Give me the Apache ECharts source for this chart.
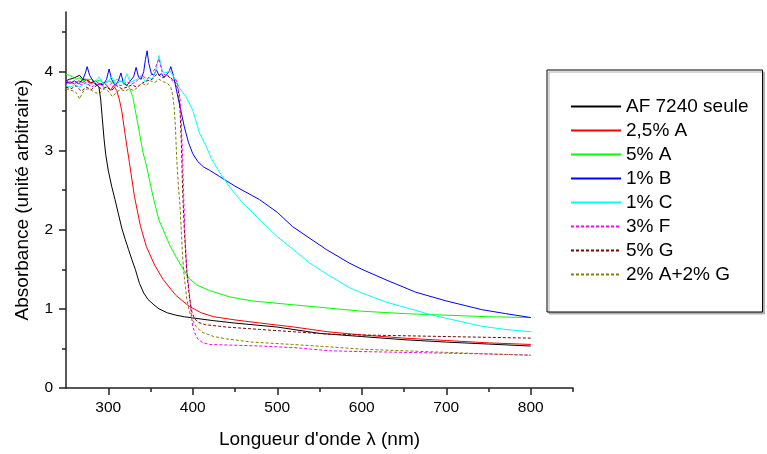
<!DOCTYPE html>
<html><head><meta charset="utf-8">
<script src="https://cdn.jsdelivr.net/npm/echarts@6/dist/echarts.min.js"></script>
<style>html,body{margin:0;padding:0;background:#fff}#c{width:767px;height:454px}</style>
</head><body><div id="c"></div>
<script>
const seriesNames = ['AF 7240 seule','2,5% A','5% A','1% B','1% C','3% F','5% G','2% A+2% G'];
const xMajorTicks = [300,400,500,600,700,800];
const xMinorTicks = [350,450,550,650,750,850];
const yMajorTicks = [0,1,2,3,4];
const yMinorTicks = [0.5,1.5,2.5,3.5,4.5];

const wlBlack = [250,254,258,262,266,270,274,278,282,286,289,291,293,295,297,300,304,308,312,316,320,324,328,332,337,342,347,353,360,370,380,390,400,425,450,500,550,600,650,700,750,800];
const absBlack = [3.88,3.9,3.91,3.93,3.95,3.9,3.9,3.85,3.87,3.84,3.8,3.65,3.4,3.15,2.95,2.75,2.55,2.38,2.2,2.02,1.88,1.75,1.62,1.5,1.32,1.2,1.12,1.06,1.0,0.95,0.92,0.9,0.885,0.85,0.82,0.77,0.69,0.65,0.61,0.58,0.555,0.53];

const wlRed = [250,255,260,265,270,275,280,285,290,295,300,303,306,310,313,316,320,325,331,338,345,355,365,380,396,410,425,450,480,520,560,600,650,700,750,800];
const absRed = [3.85,3.87,3.84,3.88,3.86,3.9,3.85,3.88,3.84,3.86,3.8,3.76,3.82,3.76,3.65,3.5,3.2,2.85,2.42,2.05,1.79,1.55,1.37,1.17,1.03,0.95,0.9,0.86,0.82,0.77,0.71,0.67,0.63,0.6,0.57,0.55];

const wlGreen = [250,254,258,262,266,270,275,280,285,290,295,300,305,310,315,320,325,329,333,337,341,345,349,353,360,365,373,381,390,396,405,420,444,470,500,550,600,650,700,750,800];
const absGreen = [3.96,3.95,3.93,3.9,3.92,3.88,3.9,3.9,3.87,3.89,3.85,3.88,3.86,3.9,3.87,3.85,3.79,3.68,3.45,3.22,2.98,2.82,2.62,2.42,2.12,2.0,1.8,1.64,1.48,1.38,1.3,1.23,1.15,1.1,1.07,1.02,0.97,0.94,0.92,0.9,0.89];

const wlBlue = [250,255,260,265,270,273,275,278,282,286,290,294,298,301,304,308,312,315,318,322,326,330,333,336,339,342,344,346,348,351,354,357,360,363,366,369,372,374,377,380,385,390,395,400,406,413,420,432,450,479,500,518,540,558,585,600,630,664,700,742,770,800];
const absBlue = [3.86,3.85,3.88,3.84,3.9,3.98,4.06,3.95,3.88,3.82,3.84,3.83,3.9,4.03,3.9,3.82,3.88,3.98,3.85,3.82,3.88,3.93,4.05,3.92,3.9,4.0,4.15,4.26,4.1,3.97,3.95,4.02,3.95,3.97,3.92,3.96,4.0,4.06,3.95,3.8,3.55,3.3,3.1,2.96,2.86,2.79,2.75,2.67,2.55,2.38,2.22,2.04,1.88,1.75,1.58,1.5,1.36,1.21,1.1,0.99,0.94,0.89];

const wlCyan = [250,255,260,266,272,278,284,289,294,299,304,309,314,318,322,326,330,334,339,344,348,352,356,360,364,368,373,379,385,392,400,408,416,422,432,445,459,480,499,520,538,560,585,600,630,664,680,700,742,770,800];
const absCyan = [3.82,3.8,3.83,3.8,3.85,3.82,3.86,3.93,3.84,3.86,3.93,3.83,3.88,3.85,3.97,3.86,3.88,3.9,3.95,3.87,3.92,3.9,4.0,4.2,4.0,3.98,4.01,3.9,3.78,3.68,3.51,3.22,3.05,2.9,2.72,2.52,2.34,2.12,1.92,1.74,1.58,1.43,1.27,1.2,1.08,0.98,0.93,0.88,0.78,0.74,0.71];

const wlMagenta = [250,256,262,268,274,280,286,292,298,304,310,316,322,328,334,340,346,352,356,360,364,368,372,376,380,383,385,386.5,388,389.5,391,393,396,398,400,403,406,412,420,450,480,520,562,600,650,700,750,800];
const absMagenta = [3.88,3.85,3.87,3.83,3.86,3.8,3.84,3.82,3.8,3.85,3.83,3.82,3.87,3.84,3.88,3.95,3.9,3.97,4.05,4.16,3.98,3.95,3.93,3.88,3.9,3.8,3.65,3.35,2.9,2.35,1.87,1.5,1.2,0.95,0.78,0.68,0.62,0.57,0.55,0.54,0.53,0.51,0.47,0.46,0.45,0.44,0.43,0.415];

const wlMaroon = [250,256,262,268,274,280,286,292,298,304,310,316,322,328,334,340,346,352,358,364,370,376,380,383,385,386.5,388,390,393,396,399,402,406,415,440,479,520,562,600,650,700,750,800];
const absMaroon = [3.8,3.78,3.82,3.75,3.8,3.77,3.82,3.78,3.8,3.76,3.82,3.78,3.8,3.83,3.8,3.85,3.88,3.9,3.97,3.92,3.95,3.9,3.85,3.75,3.5,3.1,2.5,2.0,1.46,1.15,0.96,0.88,0.83,0.8,0.77,0.74,0.71,0.68,0.67,0.66,0.65,0.64,0.63];

const wlOlive = [250,255,260,263,266,270,275,280,285,290,295,300,305,310,315,320,325,330,335,340,345,350,355,360,365,370,374,376,378,379.5,381,383,385,388,390,393,396,399,405,412,425,440,470,518,562,600,650,700,750,800];
const absOlive = [3.78,3.76,3.75,3.72,3.65,3.74,3.78,3.76,3.73,3.72,3.78,3.75,3.68,3.74,3.77,3.75,3.78,3.76,3.8,3.85,3.82,3.88,3.86,3.9,3.87,3.85,3.8,3.72,3.55,3.3,2.9,2.55,2.29,1.66,1.4,1.12,0.97,0.87,0.76,0.7,0.65,0.62,0.58,0.55,0.52,0.49,0.47,0.45,0.43,0.415];

const wls = [wlBlack, wlRed, wlGreen, wlBlue, wlCyan, wlMagenta, wlMaroon, wlOlive];
const abss = [absBlack, absRed, absGreen, absBlue, absCyan, absMagenta, absMaroon, absOlive];
const colors = ['#000000','#ff0000','#00ff00','#0000ff','#00ffff','#ff00ff','#800000','#808000'];
const dashed = [false,false,false,false,false,true,true,true];

const FONT = 'Liberation Sans, Arial, sans-serif';
const chart = echarts.init(document.getElementById('c'), null, {renderer:'canvas'});
const axisLineStyle = {color:'#222', width:1.5};
const option = {
  animation:false,
  backgroundColor:'#fff',
  grid:{left:66, right:194, top:12, bottom:65, containLabel:false},
  legend:{
    orient:'vertical', left:547, top:70,
    padding:[27,14,28,23],
    itemWidth:50, itemHeight:14, itemGap:5,
    borderColor:'#000', borderWidth:1, backgroundColor:'#fff',
    shadowColor:'#b0b0b0', shadowOffsetX:2, shadowOffsetY:2, shadowBlur:0,
    itemStyle:{opacity:0, color:'rgba(0,0,0,0)', borderWidth:0},
    textStyle:{fontFamily:FONT, fontSize:19, color:'#000'},
    data: seriesNames
  },
  xAxis:[{
    type:'value', position:'bottom', min:250, max:850,
    name:'Longueur d\'onde λ (nm)', nameLocation:'middle', nameGap:42,
    nameTextStyle:{fontFamily:FONT, fontSize:19, color:'#000'},
    axisLine:{show:true, lineStyle:axisLineStyle},
    axisTick:{show:true, length:7, customValues:xMajorTicks, lineStyle:{color:'#222', width:1.5}},
    axisLabel:{customValues:xMajorTicks, fontFamily:FONT, fontSize:15.5, color:'#000', margin:12},
    splitLine:{show:false}
  },{
    type:'value', position:'bottom', min:250, max:850,
    axisLine:{show:false},
    axisTick:{show:true, length:4, customValues:xMinorTicks, lineStyle:{color:'#222', width:1.5}},
    axisLabel:{show:false}, splitLine:{show:false}
  }],
  yAxis:[{
    type:'value', position:'left', min:0, max:4.75,
    name:'Absorbance (unité arbitraire)', nameLocation:'middle', nameGap:34, nameRotate:90,
    nameTextStyle:{fontFamily:FONT, fontSize:19, color:'#000'},
    axisLine:{show:true, lineStyle:axisLineStyle},
    axisTick:{show:true, length:7, customValues:yMajorTicks, lineStyle:{color:'#222', width:1.5}},
    axisLabel:{customValues:yMajorTicks, fontFamily:FONT, fontSize:15.5, color:'#000', margin:13},
    splitLine:{show:false}
  },{
    type:'value', position:'left', min:0, max:4.75,
    axisLine:{show:false},
    axisTick:{show:true, length:4, customValues:yMinorTicks, lineStyle:{color:'#222', width:1.5}},
    axisLabel:{show:false}, splitLine:{show:false}
  }],
  series: seriesNames.map((n,i)=>({
    name:n, type:'line', xAxisIndex:0, yAxisIndex:0,
    symbol:'none', showSymbol:false, smooth:false,
    color:colors[i],
    lineStyle:{color:colors[i], width:1, type: dashed[i] ? [3,2] : 'solid'},
    data: wls[i].map((w,k)=>[w, abss[i][k]])
  }))
};
chart.setOption(option);
</script></body></html>
